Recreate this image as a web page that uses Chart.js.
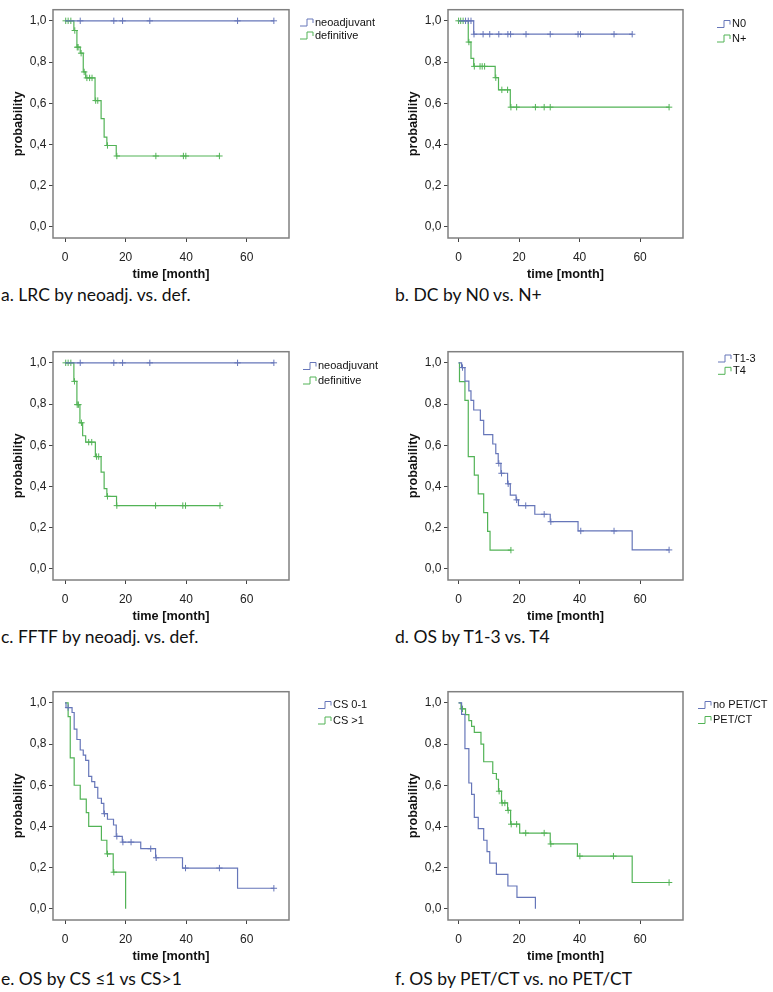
<!DOCTYPE html>
<html>
<head>
<meta charset="utf-8">
<script src="https://cdn.jsdelivr.net/npm/chart.js@4.4.1/dist/chart.umd.min.js"></script>
<style>
  body { margin: 0; background: #fff; width: 773px; height: 992px; position: relative; overflow: hidden; }
  canvas { position: absolute; }
  .cap { position: absolute; font-family: Lato, "Open Sans", sans-serif; font-size: 17.5px; line-height: 20px; color: #111; white-space: nowrap; }
</style>
</head>
<body>
<canvas id="pa" width="386" height="282" style="left:0;top:0"></canvas>
<canvas id="pb" width="387" height="282" style="left:386px;top:0"></canvas>
<canvas id="pc" width="386" height="282" style="left:0;top:342px"></canvas>
<canvas id="pd" width="387" height="282" style="left:386px;top:342px"></canvas>
<canvas id="pe" width="386" height="282" style="left:0;top:682px"></canvas>
<canvas id="pf" width="387" height="282" style="left:386px;top:682px"></canvas>

<div class="cap" style="left:1px;top:285px">a. LRC by neoadj. vs. def.</div>
<div class="cap" style="left:395px;top:285px">b. DC by N0 vs. N+</div>
<div class="cap" style="left:1px;top:627px">c. FFTF by neoadj. vs. def.</div>
<div class="cap" style="left:395px;top:627px">d. OS by T1-3 vs. T4</div>
<div class="cap" style="left:1px;top:969px">e. OS by CS ≤1 vs CS&gt;1</div>
<div class="cap" style="left:395px;top:969px">f. OS by PET/CT vs. no PET/CT</div>

<script>
// axis ticks
const xTicks = [0, 20, 40, 60];
const yTicks = [0, 0.2, 0.4, 0.6, 0.8, 1.0];

// a. LRC by neoadjuvant vs definitive
const lrcNeoEvents = [];
const lrcNeoSurv = [];
const lrcNeoCensored = [5, 16.1, 19, 28, 57, 69];
const lrcDefEvents = [2.9, 3.9, 5, 6, 6.8, 9.9, 11.9, 12.9, 13.8, 16.9];
const lrcDefSurv = [0.953, 0.872, 0.843, 0.752, 0.723, 0.613, 0.525, 0.436, 0.395, 0.344];
const lrcDefCensored = [0.2, 1, 1.9, 3.2, 4.0, 4.3, 5.3, 6.3, 7.2, 8.1, 8.9, 10.1, 10.8, 14.0, 17.1, 30, 39.1, 39.9, 51];

// b. DC by N0 vs N+
const dcN0Events = [5.0];
const dcN0Surv = [0.935];
const dcN0Censored = [2.3, 3.2, 4.1, 5.1, 8.1, 10.3, 13.3, 16.3, 17.2, 22.3, 30.3, 39.5, 40.3, 51.4, 57.4];
const dcNpEvents = [3.2, 4.1, 5.0, 12.1, 13.2, 17.1];
const dcNpSurv = [0.897, 0.818, 0.779, 0.724, 0.665, 0.581];
const dcNpCensored = [0, 0.7, 1.5, 3.4, 5.2, 7.1, 7.8, 8.6, 12.3, 14.3, 16.2, 17.3, 19.2, 25.4, 28.3, 30.3, 69.6];

// c. FFTF by neoadjuvant vs definitive
const fftfNeoEvents = [];
const fftfNeoSurv = [];
const fftfNeoCensored = [5, 16.1, 19, 28, 57, 69];
const fftfDefEvents = [2.9, 3.9, 4.9, 5.8, 6.8, 10, 11.9, 12.9, 13.8, 17];
const fftfDefSurv = [0.91, 0.797, 0.709, 0.646, 0.615, 0.545, 0.47, 0.389, 0.352, 0.307];
const fftfDefCensored = [0.2, 1, 1.9, 3.1, 4.0, 4.4, 5.4, 7.8, 8.8, 10.4, 11.1, 14.0, 17.1, 29.9, 38.9, 39.8, 51.2];

// d. OS by T1-3 vs T4
const osT13Events = [1.0, 2.1, 3.4, 4.1, 5.0, 7.2, 8.3, 11.3, 12.3, 13.1, 14.0, 16.2, 17.1, 19.0, 19.8, 25.2, 30.3, 39.5, 57.4];
const osT13Surv = [0.977, 0.911, 0.864, 0.818, 0.771, 0.721, 0.652, 0.606, 0.559, 0.512, 0.464, 0.413, 0.358, 0.335, 0.307, 0.265, 0.229, 0.184, 0.092];
const osT13Censored = [1.3, 13.3, 14.2, 16.4, 19.2, 22.2, 28.3, 30.5, 40.4, 51.4, 69.6];
const osT4Events = [0.3, 2.1, 3.2, 5.2, 6.5, 8.3, 9.6, 10.4];
const osT4Surv = [0.909, 0.818, 0.545, 0.455, 0.364, 0.273, 0.182, 0.091];
const osT4Censored = [17.3];

// e. OS by comorbidity score
const osCs01Events = [0.3, 2.3, 3.0, 3.9, 5.0, 6.0, 6.8, 7.8, 8.8, 9.8, 10.8, 12.0, 12.8, 14.0, 16.0, 16.9, 18.9, 25.0, 29.9, 38.8, 57.0];
const osCs01Surv = [0.977, 0.953, 0.872, 0.822, 0.771, 0.746, 0.721, 0.643, 0.618, 0.59, 0.537, 0.512, 0.462, 0.435, 0.407, 0.352, 0.324, 0.292, 0.248, 0.198, 0.1];
const osCs01Censored = [1.0, 13.0, 17.1, 19.1, 21.8, 28.3, 30.1, 39.8, 51.0, 69.0];
const osCs2Events = [1.0, 1.7, 3.0, 5.0, 7.0, 7.8, 12.0, 13.8, 15.9, 20.0];
const osCs2Surv = [0.933, 0.733, 0.6, 0.533, 0.467, 0.4, 0.333, 0.267, 0.178, 0];
const osCs2Censored = [14.0, 16.1];

// f. OS by PET/CT staging
const osNoPetEvents = [1.0, 2.1, 3.4, 4.3, 5.2, 6.5, 8.3, 9.4, 10.3, 12.5, 16.3, 19.3, 25.4];
const osNoPetSurv = [0.944, 0.778, 0.611, 0.556, 0.444, 0.389, 0.333, 0.278, 0.222, 0.167, 0.111, 0.056, 0];
const osNoPetCensored = [];
const osPetEvents = [0.8, 2.3, 3.4, 4.3, 5.2, 7.4, 8.3, 11.3, 12.5, 13.2, 14.2, 16.2, 17.2, 20.2, 30.3, 39.3, 57.4];
const osPetSurv = [0.971, 0.943, 0.914, 0.886, 0.857, 0.8, 0.714, 0.657, 0.629, 0.571, 0.514, 0.478, 0.411, 0.368, 0.315, 0.256, 0.128];
const osPetCensored = [1.3, 13.4, 14.4, 15.3, 16.4, 17.4, 19.2, 22.2, 28.3, 30.5, 40.1, 51.2, 69.6];

const BLUE = '#6676b9';
const GREEN = '#52b356';

Chart.defaults.font.family = '"Liberation Sans", Arial, sans-serif';
Chart.defaults.color = '#222';

// step curve from the event table
function kmPoints(events, surv, censored) {
  const pts = [{ x: 0, y: 1 }];
  events.forEach((t, i) => pts.push({ x: t, y: surv[i] }));
  const lastT = Math.max(events.length ? events[events.length - 1] : 0, ...censored);
  pts.push({ x: lastT, y: pts[pts.length - 1].y });
  return pts;
}

function survAt(events, surv, t) {
  let s = 1;
  events.forEach((e, i) => { if (e <= t) s = surv[i]; });
  return s;
}

const frame = {
  id: 'frame',
  afterDraw(chart) {
    const { ctx } = chart;
    const { left, top, right, bottom } = chart.chartArea;
    ctx.save();
    ctx.strokeStyle = '#808080';
    ctx.lineWidth = 1.5;
    ctx.strokeRect(left, top, right - left, bottom - top);
    ctx.restore();
  }
};

const kmLegend = {
  id: 'kmLegend',
  afterDraw(chart, args, opts) {
    const { ctx } = chart;
    ctx.save();
    ctx.font = '11px "Liberation Sans", Arial, sans-serif';
    ctx.textBaseline = 'middle';
    opts.items.forEach((it, i) => {
      const y = opts.rows[i];
      const x = opts.x;
      ctx.strokeStyle = it.color;
      ctx.lineWidth = 1;
      ctx.beginPath();
      ctx.moveTo(x, y + 3.5);
      ctx.lineTo(x + 7, y + 3.5);
      ctx.lineTo(x + 7, y - 3.5);
      ctx.lineTo(x + 13, y - 3.5);
      ctx.lineTo(x + 13, y + 0.5);
      ctx.stroke();
      ctx.fillStyle = '#111';
      ctx.fillText(it.label, x + 15, y);
    });
    ctx.restore();
  }
};

function makePanel(id, col, groups, legendX, legendRows) {
  const left = col === 0;
  const datasets = [];
  groups.forEach(g => {
    datasets.push({
      data: kmPoints(g.events, g.surv, g.censored),
      borderColor: g.color,
      borderWidth: 1.2,
      stepped: true,
      pointRadius: 0,
      fill: false
    });
    datasets.push({
      data: g.censored.map(t => ({ x: t, y: survAt(g.events, g.surv, t) })),
      showLine: false,
      pointStyle: 'cross',
      pointRadius: 3.2,
      pointBorderWidth: 1,
      pointBorderColor: g.color,
      borderColor: g.color
    });
  });

  new Chart(document.getElementById(id), {
    type: 'line',
    data: { datasets },
    plugins: [frame, kmLegend],
    options: {
      responsive: false,
      animation: false,
      devicePixelRatio: 1,
      layout: { padding: { top: 1, right: left ? 97 : 90, left: 0, bottom: 0 } },
      plugins: {
        legend: { display: false },
        tooltip: { enabled: false },
        kmLegend: {
          x: legendX,
          rows: legendRows,
          items: groups.map(g => ({ label: g.label, color: g.color }))
        }
      },
      scales: {
        x: {
          type: 'linear',
          min: left ? -4 : -3.5,
          max: left ? 74 : 74.2,
          afterBuildTicks: s => { s.ticks = xTicks.map(v => ({ value: v })); },
          afterFit: s => { s.height = 44; },
          border: { display: false },
          grid: { drawOnChartArea: false, drawTicks: true, tickLength: 4, tickColor: '#444' },
          ticks: { font: { size: 12 }, color: '#222', padding: 8, maxRotation: 0 },
          title: {
            display: true,
            text: 'time [month]',
            font: { size: 12.7, weight: 'bold' },
            color: '#111',
            padding: { top: 0, bottom: 0 }
          }
        },
        y: {
          type: 'linear',
          min: -0.054,
          max: 1.054,
          afterBuildTicks: s => { s.ticks = yTicks.map(v => ({ value: v })); },
          afterFit: s => { s.width = left ? 53 : 62; },
          border: { display: false },
          grid: { drawOnChartArea: false, drawTicks: true, tickLength: 4, tickColor: '#444' },
          ticks: {
            font: { size: 12 },
            color: '#222',
            padding: 2.5,
            callback: v => v.toFixed(1).replace('.', ',')
          },
          title: {
            display: true,
            text: 'probability',
            font: { size: 12.7, weight: 'bold' },
            color: '#111',
            padding: { top: left ? 11 : 19.7, bottom: 0 }
          }
        }
      }
    }
  });
}

makePanel('pa', 0, [
  { label: 'neoadjuvant', color: BLUE, events: lrcNeoEvents, surv: lrcNeoSurv, censored: lrcNeoCensored },
  { label: 'definitive', color: GREEN, events: lrcDefEvents, surv: lrcDefSurv, censored: lrcDefCensored }
], 300, [22.5, 35.5]);

makePanel('pb', 1, [
  { label: 'N0', color: BLUE, events: dcN0Events, surv: dcN0Surv, censored: dcN0Censored },
  { label: 'N+', color: GREEN, events: dcNpEvents, surv: dcNpSurv, censored: dcNpCensored }
], 331, [24, 38.5]);

makePanel('pc', 0, [
  { label: 'neoadjuvant', color: BLUE, events: fftfNeoEvents, surv: fftfNeoSurv, censored: fftfNeoCensored },
  { label: 'definitive', color: GREEN, events: fftfDefEvents, surv: fftfDefSurv, censored: fftfDefCensored }
], 303, [24, 38.5]);

makePanel('pd', 1, [
  { label: 'T1-3', color: BLUE, events: osT13Events, surv: osT13Surv, censored: osT13Censored },
  { label: 'T4', color: GREEN, events: osT4Events, surv: osT4Surv, censored: osT4Censored }
], 332, [16.5, 28.8]);

makePanel('pe', 0, [
  { label: 'CS 0-1', color: BLUE, events: osCs01Events, surv: osCs01Surv, censored: osCs01Censored },
  { label: 'CS >1', color: GREEN, events: osCs2Events, surv: osCs2Surv, censored: osCs2Censored }
], 318, [23, 38.5]);

makePanel('pf', 1, [
  { label: 'no PET/CT', color: BLUE, events: osNoPetEvents, surv: osNoPetSurv, censored: osNoPetCensored },
  { label: 'PET/CT', color: GREEN, events: osPetEvents, surv: osPetSurv, censored: osPetCensored }
], 312, [23, 38]);
</script>
</body>
</html>
